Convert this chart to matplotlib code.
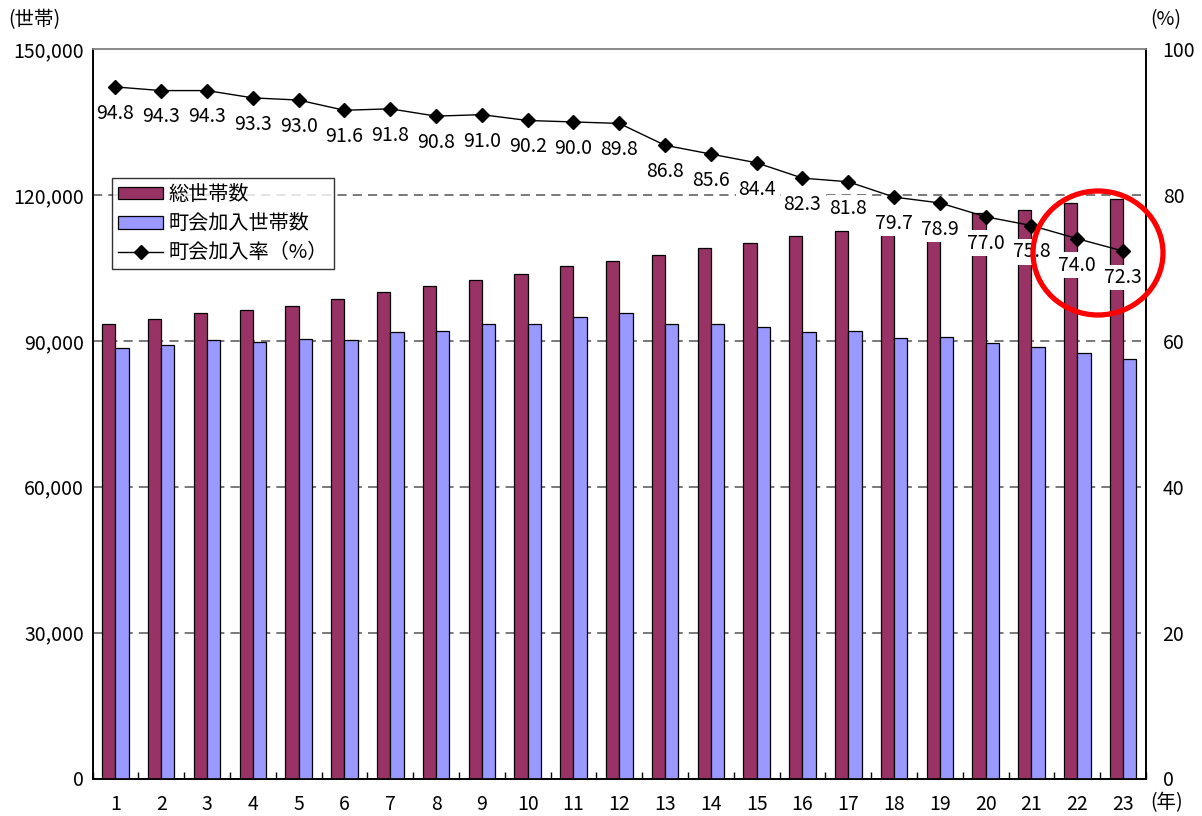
import numpy as np
import matplotlib
matplotlib.use('Agg')
import matplotlib.pyplot as plt
from matplotlib.patches import Patch, Ellipse
from matplotlib.lines import Line2D

plt.rcParams['font.family'] = ['Noto Sans CJK JP', 'DejaVu Sans']

# 年度ごとのデータ
years = [str(i) for i in range(1, 24)]
total_households = [93400, 94500, 95700, 96400, 97200, 98600, 100000, 101300,
                    102600, 103700, 105400, 106500, 107700, 109100, 110100, 111600,
                    112600, 113700, 115000, 116200, 116900, 118300, 119200]
member_households = [88500, 89200, 90200, 89800, 90400, 90200, 91800, 92000,
                     93500, 93500, 94800, 95700, 93400, 93400, 92900, 91900,
                     92000, 90600, 90750, 89500, 88700, 87500, 86200]
join_rate = [94.8, 94.3, 94.3, 93.3, 93.0, 91.6, 91.8, 90.8, 91.0, 90.2, 90.0, 89.8,
             86.8, 85.6, 84.4, 82.3, 81.8, 79.7, 78.9, 77.0, 75.8, 74.0, 72.3]

FS = 14

W, H = 1202, 816
fig = plt.figure(figsize=(W / 100, H / 100), dpi=100)
ax = fig.add_axes([92.5 / W, (H - 778.5) / H, 1053.5 / W, 729.5 / H])
ax2 = ax.twinx()

x = np.arange(1, len(years) + 1)
bw = 0.29
ax.bar(x - bw / 2, total_households, width=bw, color='#993366',
       edgecolor='black', linewidth=0.9, zorder=3)
ax.bar(x + bw / 2, member_households, width=bw, color='#9999FF',
       edgecolor='black', linewidth=0.9, zorder=3)

ax.set_xlim(0.5, len(years) + 0.5)
ax.set_ylim(0, 150000)
ax.set_yticks(range(0, 150001, 30000))
ax.set_yticklabels([f'{v:,}' for v in range(0, 150001, 30000)], fontsize=FS)
ax.set_xticks(x)
ax.set_xticklabels(years, fontsize=FS)
ax.set_xticks(np.arange(0.5, len(years) + 1, 1), minor=True)
ax.tick_params(axis='x', which='major', length=0, pad=11)
ax.tick_params(axis='x', which='minor', direction='in', length=5, width=1)
ax.tick_params(axis='y', length=0, pad=6)
for v in range(30000, 150000, 30000):
    ax.axhline(v, color='#555555', linestyle=(0, (6, 4)), linewidth=1.1, zorder=1)

# 加入率の折れ線
ax2.plot(x, join_rate, color='black', linewidth=1.0, marker='D', markersize=7,
         zorder=4)
ax2.set_ylim(0, 100)
ax2.set_yticks(range(0, 101, 20))
ax2.set_yticklabels([str(v) for v in range(0, 101, 20)], fontsize=FS)
ax2.tick_params(axis='y', length=0, pad=12)
for xi, r in zip(x, join_rate):
    ax2.annotate(f'{r:.1f}', (xi, r), xytext=(0, -19), textcoords='offset points',
                 ha='center', va='center', fontsize=FS, zorder=5,
                 bbox=dict(boxstyle='square,pad=0.12', fc='white', ec='none'))

for a in (ax, ax2):
    a.spines['top'].set_color('#888888')
    a.spines['top'].set_linewidth(1.2)
    a.spines['left'].set_linewidth(1.2)
    a.spines['right'].set_linewidth(1.2)
    a.spines['bottom'].set_linewidth(1.2)

handles = [Patch(facecolor='#993366', edgecolor='black', linewidth=0.9),
           Patch(facecolor='#9999FF', edgecolor='black', linewidth=0.9),
           Line2D([], [], color='black', linewidth=1.0, marker='D', markersize=7)]
labels = ['総世帯数', '町会加入世帯数', '町会加入率（%）']
leg = ax2.legend(handles, labels, loc='upper left', bbox_to_anchor=(0.0188, 0.823),
                 borderaxespad=0, fontsize=14.5, frameon=True, fancybox=False,
                 handlelength=2.2, handleheight=0.6, handletextpad=0.3,
                 labelspacing=0.4, borderpad=0.3)
leg.get_frame().set_edgecolor('black')
leg.get_frame().set_linewidth(1.0)
leg.set_zorder(6)

fig.text(8 / W, 1 - 20 / H, '(世帯)', ha='left', va='center', fontsize=FS)
fig.text(1150 / W, 1 - 20 / H, '(%)', ha='left', va='center', fontsize=FS)
fig.text(1150 / W, 1 - 803 / H, '(年)', ha='left', va='center', fontsize=FS)

# 直近2年を囲む赤丸
fig.add_artist(Ellipse((1098 / W, 1 - 253 / H), 130 / W, 124 / H,
                       transform=fig.transFigure, fill=False,
                       edgecolor='#FF0000', linewidth=3.8))

fig.savefig('out.png', dpi=100)
